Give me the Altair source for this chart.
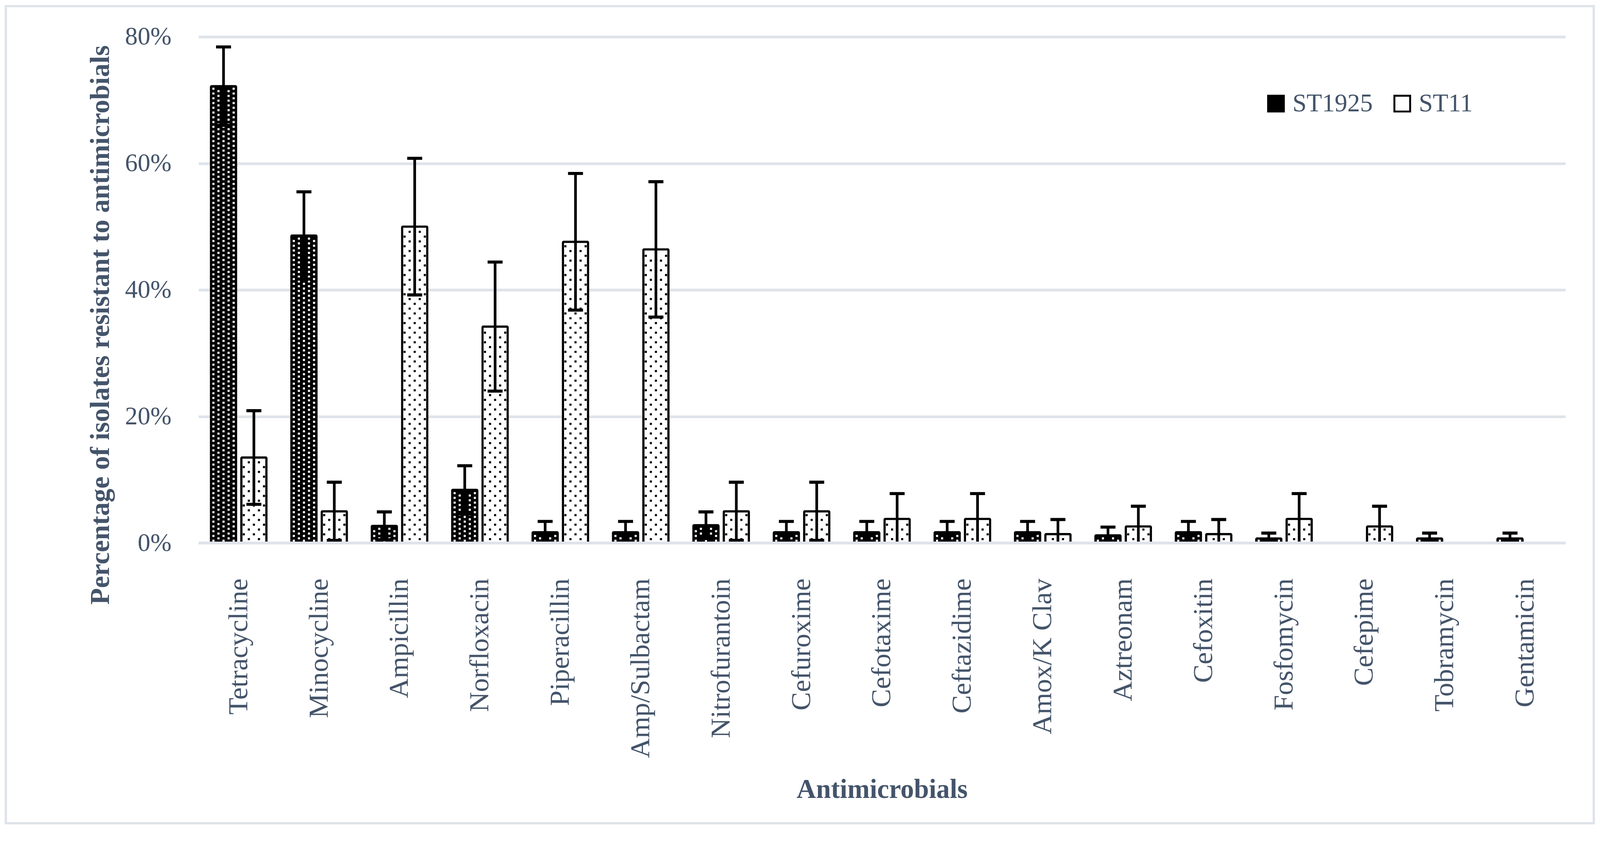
import altair as alt
import pandas as pd

categories = ["Tetracycline", "Minocycline", "Ampicillin", "Norfloxacin", "Piperacillin",
              "Amp/Sulbactam", "Nitrofurantoin", "Cefuroxime", "Cefotaxime", "Ceftazidime",
              "Amox/K Clav", "Aztreonam", "Cefoxitin", "Fosfomycin", "Cefepime",
              "Tobramycin", "Gentamicin"]
series_names = ["ST1925", "ST11"]
st1925 = [72.2, 48.6, 2.7, 8.4, 1.7, 1.7, 2.8, 1.7, 1.7, 1.7, 1.7, 1.2, 1.7, 0.7, 0.0, 0.7, 0.7]
st1925_err = [6.2, 6.9, 2.2, 3.8, 1.7, 1.7, 2.1, 1.7, 1.7, 1.7, 1.7, 1.3, 1.7, 0.85, 0.0, 0.85, 0.85]
st11 = [13.5, 5.0, 50.0, 34.2, 47.6, 46.4, 5.0, 5.0, 3.8, 3.8, 1.4, 2.6, 1.4, 3.8, 2.6, 0.0, 0.0]
st11_err = [7.4, 4.6, 10.8, 10.2, 10.8, 10.7, 4.6, 4.6, 4.0, 4.0, 2.3, 3.2, 2.3, 4.0, 3.2, 0.0, 0.0]
y_ticks = [0, 20, 40, 60, 80]

TEXT = "#44546A"
GRID = "#DFE3EA"
FONT = "Liberation Serif"

# slot positions inside each category group (11 sub-slots, bars sit on slot 2 and 8)
bar_slot = {"ST1925": 2, "ST11": 8}
rows = []
for i, cat in enumerate(categories):
    for name, vals, errs in (("ST1925", st1925, st1925_err), ("ST11", st11, st11_err)):
        v = vals[i]
        if v <= 0:
            continue
        rows.append(dict(cat=cat, series=name, slot=bar_slot[name], value=v,
                         low=max(v - errs[i], 0.0), high=v + errs[i]))
bars_df = pd.DataFrame(rows)

# dotted fill texture (pattern spacing in % units)
texture = {"ST1925": (0.376, 0.35, ([0, 2, 4], [1, 3]), 0),
           "ST11": (0.759, 0.6, ([1, 3], [0, 2, 4]), 6)}
dot_rows = []
for r in rows:
    step, start, sets, base = texture[r["series"]]
    k = 0
    while start + k * step < r["value"] - 0.3:
        for c in sets[k % 2]:
            dot_rows.append(dict(cat=r["cat"], series=r["series"], slot=base + c,
                                 y=start + k * step))
        k += 1
dots_df = pd.DataFrame(dot_rows)

xscale = alt.Scale(domain=categories, paddingInner=0.3078, paddingOuter=0.1539)
xoscale = alt.Scale(domain=list(range(11)), paddingInner=0, paddingOuter=0)
yscale = alt.Scale(domain=[0, 80], nice=False)

x_axis = alt.Axis(labelAngle=-90, labelFontSize=72, labelPadding=92, labelLimit=2000,
                  domain=False, ticks=False, tickSize=0, grid=False,
                  title="Antimicrobials", titleFontSize=70, titleFontWeight="bold",
                  titleY=664, titleBaseline="alphabetic")
y_axis = alt.Axis(values=y_ticks, labelExpr="datum.value + '%'", labelFontSize=66,
                  labelPadding=71, domain=False, ticks=False, tickSize=0,
                  grid=True, gridColor=GRID, gridWidth=7,
                  title="Percentage of isolates resistant to antimicrobials",
                  titleFontSize=71, titleFontWeight="bold", titleLimit=4000,
                  titleX=-234, titleY=750, titleBaseline="alphabetic")

X = alt.X("cat:N", sort=categories, scale=xscale, axis=x_axis,
          title="Antimicrobials")
XO = alt.XOffset("slot:O", scale=xoscale)


def Y(field):
    return alt.Y(field, scale=yscale, axis=y_axis,
                 title="Percentage of isolates resistant to antimicrobials")


border = alt.Chart(pd.DataFrame({"b": [0]})).mark_rect(
    fillOpacity=0, stroke=GRID, strokeWidth=6
).encode(x=alt.value(-502), x2=alt.value(3635), y=alt.value(-80), y2=alt.value(2048))

bars = alt.Chart(bars_df).mark_bar(
    width=65.5, stroke="black", strokeWidth=5.5, strokeJoin="round", cornerRadius=2, opacity=1
).encode(
    x=X, xOffset=XO,
    y=Y("value:Q"),
    fill=alt.Fill("series:N", scale=alt.Scale(domain=series_names, range=["#000000", "#FFFFFF"]),
                  legend=alt.Legend(orient="none", legendX=2774, legendY=141,
                                    direction="horizontal", title=None, padding=0,
                                    symbolType="square", symbolSize=1681,
                                    symbolStrokeWidth=5, symbolStrokeColor="black",
                                    symbolOpacity=1, labelLimit=1000,
                                    labelFontSize=66, labelOffset=10, columnPadding=43)),
)

dots = alt.Chart(dots_df).mark_point(
    shape="square", filled=True, size=30, opacity=1, strokeWidth=0
).encode(
    x=X, xOffset=XO,
    y=Y("y:Q"),
    fill=alt.condition("datum.series == 'ST1925'", alt.value("#FFFFFF"), alt.value("#000000")),
)

stems = alt.Chart(bars_df).mark_rule(color="black", strokeWidth=7).encode(
    x=X, xOffset=XO,
    y=Y("low:Q"), y2="high:Q",
)
caps_hi = alt.Chart(bars_df).mark_tick(color="black", thickness=8, size=39, opacity=1).encode(
    x=X, xOffset=XO, y=Y("high:Q"),
)
caps_lo = alt.Chart(bars_df).transform_filter("datum.low > 0.05").mark_tick(
    color="black", thickness=8, size=39, opacity=1
).encode(
    x=X, xOffset=XO, y=Y("low:Q"),
)
baseline = alt.Chart(pd.DataFrame({"y0": [0]})).mark_rule(color=GRID, strokeWidth=7).encode(
    y=Y("y0:Q")
)

chart = alt.layer(border, bars, dots, stems, caps_hi, caps_lo, baseline).properties(
    width=3561, height=1318,
    autosize=alt.AutoSizeParams(type="none"),
    padding={"left": 509, "top": 69, "right": 82, "bottom": 739},
    background="white",
).configure(font=FONT).configure_view(strokeWidth=0).configure_axis(
    labelFont=FONT, titleFont=FONT, labelColor=TEXT, titleColor=TEXT
).configure_legend(labelFont=FONT, labelColor=TEXT)

chart.save("out.html", embed_options={"renderer": "svg", "actions": False})
